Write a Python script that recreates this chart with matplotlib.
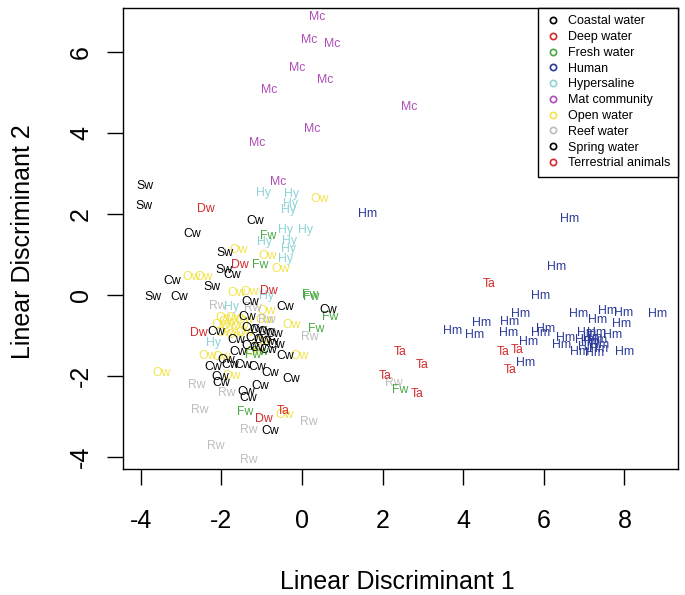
import matplotlib
matplotlib.use('Agg')
import matplotlib.pyplot as plt
from matplotlib.lines import Line2D

plt.rcParams['font.family'] = ['Liberation Sans', 'DejaVu Sans']
plt.rcParams['axes.unicode_minus'] = False

# --- data: LD1 / LD2 scores per sample, grouped by environment ---
groups = ['Coastal water', 'Deep water', 'Fresh water', 'Human', 'Hypersaline',
          'Mat community', 'Open water', 'Reef water', 'Spring water',
          'Terrestrial animals']
codes = ['Cw', 'Dw', 'Fw', 'Hm', 'Hy', 'Mc', 'Ow', 'Rw', 'Sw', 'Ta']
colors = ['black', '#d42a2a', '#49a844', '#2b3a98', '#8fd3d6',
          '#b04cb6', '#f3e44a', '#bdbdbd', 'black', '#d42a2a']

cw_x = [-1.17, -2.71, -1.72, -3.23, -3.04, -1.29, -0.42, 0.65, -2.12, -0.42,
        -2.20, -1.79, -1.46, -1.12, -0.79, -2.03, -1.99, -0.26, -1.37, -1.04,
        -1.33, -0.78, -1.29, -1.09, -0.89, -0.69, -1.19, -0.99, -0.79, -1.29,
        -1.09, -0.84, -0.65, -1.36, -1.64, -1.59, -1.89]
cw_y = [1.83, 1.50, 0.49, 0.35, -0.04, -0.17, -0.29, -0.37, -0.91, -1.52,
        -1.79, -1.73, -1.73, -1.77, -1.93, -2.02, -2.18, -2.07, -2.39, -2.25,
        -2.55, -3.35, -0.81, -0.86, -0.91, -0.96, -1.06, -1.11, -1.16, -1.26,
        -1.31, -1.36, -1.23, -0.54, -1.11, -1.41, -1.60]

dw_x = [-2.38, -1.54, -0.81, -2.55, -0.94]
dw_y = [2.12, 0.74, 0.10, -0.93, -3.07]

fw_x = [-0.84, -1.04, 0.24, 0.20, 0.69, 0.36, 2.43, -1.41, -1.22, -1.04]
fw_y = [1.46, 0.74, -0.04, 0.00, -0.55, -0.85, -2.35, -2.88, -1.48, -1.40]

hm_x = [1.62, 6.63, 6.32, 5.91, 3.75, 4.47, 4.28, 5.16, 5.43, 5.12, 5.62,
        5.91, 6.05, 6.86, 7.33, 7.58, 7.99, 8.83, 7.93, 6.53, 6.44, 7.06,
        7.30, 7.71, 7.15, 7.33, 7.10, 7.35, 6.90, 7.27, 8.01, 5.56, 7.20,
        7.39, 7.02]
hm_y = [2.00, 1.88, 0.68, -0.02, -0.89, -0.70, -1.00, -0.66, -0.48, -0.93,
        -1.15, -0.95, -0.85, -0.47, -0.62, -0.39, -0.44, -0.47, -0.72, -1.07,
        -1.23, -0.93, -0.95, -0.99, -1.15, -1.11, -1.28, -1.34, -1.42, -1.44,
        -1.42, -1.69, -1.06, -1.23, -1.11]

hy_x = [-0.96, -0.26, -0.28, -0.34, -0.42, 0.10, -0.92, -0.32, -0.34, -0.42,
        -0.88, -1.74, -2.20]
hy_y = [2.53, 2.49, 2.24, 2.10, 1.60, 1.60, 1.32, 1.34, 1.13, 0.88,
        -0.02, -0.30, -1.19]

mc_x = [0.38, 0.18, 0.76, -0.12, 0.57, -0.82, 2.65, 0.26, -1.12, -0.59]
mc_y = [6.87, 6.30, 6.19, 5.60, 5.30, 5.06, 4.64, 4.11, 3.76, 2.80]

ow_x = [0.45, -1.58, -0.84, -0.52, -2.74, -2.45, -1.62, -1.29, -0.88, -0.26,
        -3.48, -0.05, -0.42, -1.91, -1.66, -1.41, -2.03, -1.79, -1.54, -1.91,
        -1.66, -1.41, -1.84, -2.33, -1.99, -1.74, -1.17, -0.97, -0.92]
ow_y = [2.37, 1.10, 0.96, 0.63, 0.44, 0.44, 0.04, 0.08, -0.39, -0.74,
        -1.92, -1.52, -2.96, -0.57, -0.57, -0.62, -0.74, -0.77, -0.79, -0.94,
        -0.99, -0.94, -0.67, -1.51, -1.53, -2.00, -1.41, -1.16, -0.62]

rw_x = [-2.10, -1.21, 0.20, -2.60, -1.87, -2.53, 0.16, -1.31, -2.13, -1.33,
        2.27, -0.88, -0.84]
rw_y = [-0.27, -0.33, -1.03, -2.22, -2.43, -2.84, -3.15, -3.33, -3.73, -4.07,
        -2.18, -0.62, -0.93]

sw_x = [-3.90, -3.91, -1.91, -1.94, -2.24, -3.69]
sw_y = [2.69, 2.20, 1.04, 0.62, 0.20, -0.04]

ta_x = [4.65, 2.45, 2.99, 2.06, 2.86, 5.00, 5.34, 5.16, -0.46]
ta_y = [0.26, -1.40, -1.73, -2.00, -2.44, -1.40, -1.36, -1.85, -2.86]

xs = [cw_x, dw_x, fw_x, hm_x, hy_x, mc_x, ow_x, rw_x, sw_x, ta_x]
ys = [cw_y, dw_y, fw_y, hm_y, hy_y, mc_y, ow_y, rw_y, sw_y, ta_y]

fig = plt.figure(figsize=(6.85, 5.95), dpi=100)
ax = fig.add_axes([123 / 685, 1 - 469 / 595, 555 / 685, 461 / 595])

# light colours first so the dark labels sit on top, like the original
draw_order = [6, 7, 4, 5, 2, 1, 9, 3, 0, 8]
for g in draw_order:
    for x, y in zip(xs[g], ys[g]):
        ax.text(x, y, codes[g], color=colors[g], fontsize=8.8,
                ha='center', va='center')

ax.set_xlim(-4.44, 9.33)
ax.set_ylim(-4.30, 7.09)
ax.set_xticks([-4, -2, 0, 2, 4, 6, 8])
ax.set_yticks([-4, -2, 0, 2, 4, 6])
ax.tick_params(axis='both', direction='out', length=11.5, width=1.0,
               labelsize=18)
ax.tick_params(axis='x', pad=17)
ax.tick_params(axis='y', pad=10)
for lbl in ax.get_yticklabels():
    lbl.set_rotation(90)
    lbl.set_va('center')
for sp in ax.spines.values():
    sp.set_linewidth(1.0)
    sp.set_color('black')

fig.text(397 / 685, 1 - 582 / 595, 'Linear Discriminant 1', fontsize=18,
         ha='center', va='center')
fig.text(23 / 685, 1 - 242 / 595, 'Linear Discriminant 2', fontsize=18,
         ha='center', va='center', rotation=90)

handles = [Line2D([], [], ls='none', marker='o', ms=4.5, mew=1.2,
                  mfc='none', mec=c) for c in colors]
leg = ax.legend(handles, groups, loc='upper right', bbox_to_anchor=(1, 1),
                borderaxespad=0, fontsize=9, frameon=True, fancybox=False,
                edgecolor='black', framealpha=1, handlelength=1.2,
                handletextpad=0.6, borderpad=0.6, labelspacing=0.3)
leg.get_frame().set_linewidth(1.0)

fig.savefig('out.png', dpi=100)
